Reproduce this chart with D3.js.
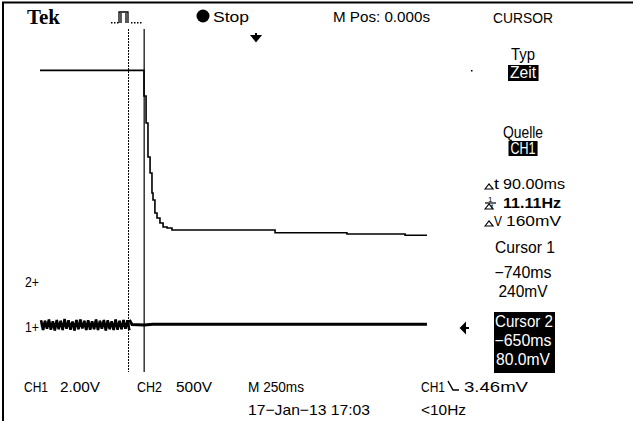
<!DOCTYPE html>
<html>
<head>
<meta charset="utf-8">
<script src="https://cdn.jsdelivr.net/npm/d3@7"></script>
<style>
  body { margin: 0; background: #fff; }
  text { font-family: "Liberation Sans", Arial, sans-serif; fill: #000; }
</style>
</head>
<body>
<div id="scope"></div>
<script>
// waveform data (seconds, volts)

// CH2: 500V/div, step down at cursor 2 then decay
var ch2Times = [-1.25, -0.651, -0.639, -0.628, -0.616, -0.605, -0.599, -0.588, -0.576, -0.559, -0.541, -0.518, -0.49, 0.104, 0.518, 0.853, 0.979];
var ch2Volts = [2440, 2140, 1825, 1427, 1240, 1006, 924, 772, 713, 655, 608, 596, 573, 541, 526, 511, 511];

// CH1: 2.00V/div, noisy baseline up to cursor 1, then flat
var ch1NoiseStart = -1.245;
var ch1NoiseStep = 0.0113;
var ch1Noise = [0.22, -0.24, 0.2, -0.18, 0.26, -0.22, 0.18, -0.26, 0.24, -0.2, 0.2, -0.24, 0.28, -0.18, 0.22, -0.22,
    0.16, -0.26, 0.24, -0.2, 0.26, -0.16, 0.2, -0.24, 0.22, -0.22, 0.18, -0.2, 0.26, -0.24, 0.2, -0.18,
    0.24, -0.26, 0.22, -0.2, 0.18, -0.24, 0.26, -0.22, 0.2, -0.2, 0.24, -0.18, 0.22, -0.24];
var ch1Times = [-0.735, -0.72, -0.65, -0.6, 0.979];
var ch1Volts = [0.24, 0.02, 0.0, 0.03, 0.03];

// cursors (seconds)
var cursorTimes = [-0.74, -0.65];

// readouts
var topLabels = ["Tek", "Stop", "M Pos: 0.000s", "CURSOR"];
var sideLabels = ["Typ", "Zeit", "Quelle", "CH1"];
var deltaLabels = ["90.00ms", "11.11Hz", "160mV"];
var cursor1Labels = ["Cursor 1", "\u2212740ms", "240mV"];
var cursor2Labels = ["Cursor 2", "\u2212650ms", "80.0mV"];
var bottomLabels = ["CH1", "2.00V", "CH2", "500V", "M 250ms", "17\u2212Jan\u221213 17:03", "CH1", "3.46mV", "<10Hz"];

var W = 633, H = 421;
var svg = d3.select("#scope").append("svg").attr("width", W).attr("height", H);

function txt(s, px, py, size, len, anchor) {
    var t = svg.append("text").attr("x", px).attr("y", py).attr("font-size", size)
        .attr("text-anchor", anchor || "start").text(s);
    if (len) t.attr("textLength", len).attr("lengthAdjust", "spacingAndGlyphs");
    return t;
}

// screen frame (top and left edges only show)
svg.append("line").attr("x1", 2).attr("x2", W).attr("y1", 2.5).attr("y2", 2.5).attr("stroke", "#000").attr("stroke-width", 2);
svg.append("line").attr("x1", 3).attr("x2", 3).attr("y1", 2).attr("y2", H).attr("stroke", "#000").attr("stroke-width", 2);

var grat = { left: 40, right: 474, top: 29, bottom: 371 };
var divH = (grat.bottom - grat.top) / 8;

var x = d3.scaleLinear().domain([-1.25, 1.25]).range([grat.left, grat.right]);
var ch2Ground = 279, ch1Ground = 325;
var y2 = d3.scaleLinear().domain([0, 500]).range([ch2Ground, ch2Ground - divH]);
var y1 = d3.scaleLinear().domain([0, 2]).range([ch1Ground, ch1Ground - divH]);

// cursor lines
svg.append("line")
    .attr("x1", x(cursorTimes[0])).attr("x2", x(cursorTimes[0]))
    .attr("y1", grat.top).attr("y2", grat.bottom + 1)
    .attr("stroke", "#000").attr("stroke-width", 1).attr("stroke-dasharray", "2,1");
svg.append("line")
    .attr("x1", x(cursorTimes[1])).attr("x2", x(cursorTimes[1]))
    .attr("y1", grat.top).attr("y2", grat.bottom + 1)
    .attr("stroke", "#000").attr("stroke-width", 1.2);

// CH1 trace
var noisePts = ch1Noise.map((v, i) => [ch1NoiseStart + i * ch1NoiseStep, v]);
var line1 = d3.line().x(d => x(d[0])).y(d => y1(d[1]));
svg.append("path")
    .attr("d", line1(noisePts))
    .attr("fill", "none").attr("stroke", "#000").attr("stroke-width", 2.2);
svg.append("path")
    .attr("d", line1(noisePts))
    .attr("fill", "none").attr("stroke", "#000").attr("stroke-width", 1)
    .attr("transform", "translate(1,0)");
svg.append("line")
    .attr("x1", x(ch1NoiseStart)).attr("x2", x(ch1Times[0]))
    .attr("y1", y1(0)).attr("y2", y1(0))
    .attr("stroke", "#000").attr("stroke-width", 4);
svg.append("path")
    .attr("d", line1(ch1Times.map((t, i) => [t, ch1Volts[i]])))
    .attr("fill", "none").attr("stroke", "#000").attr("stroke-width", 3);

// CH2 trace
var line2 = d3.line().x(d => x(d[0])).y(d => y2(d[1])).curve(d3.curveStepAfter);
svg.append("path")
    .attr("d", line2(ch2Times.map((t, i) => [t, ch2Volts[i]])))
    .attr("fill", "none").attr("stroke", "#000").attr("stroke-width", 1.6);

// ground markers
txt("2+", 25, 287, 14, 14);
txt("1+", 25, 332, 14, 14);

// trigger position arrow
svg.append("path")
    .attr("d", "M256,33 L256,41 M252,36 L256,41 L260,36 Z")
    .attr("stroke", "#000").attr("stroke-width", 2).attr("fill", "#000");
// trigger level arrow
svg.append("path")
    .attr("d", "M461,328 L469,328 M465,324 L461,328 L465,332 Z")
    .attr("stroke", "#000").attr("stroke-width", 2).attr("fill", "#000");
svg.append("rect").attr("x", 471).attr("y", 70).attr("width", 1.5).attr("height", 1.5).attr("fill", "#000");

// header
txt(topLabels[0], 27, 24, 20, 33)
    .style("font-family", "'Liberation Serif', 'DejaVu Serif', serif")
    .attr("font-weight", "bold");
svg.append("path")
    .attr("d", "M119,23 L119,12 L128,12 L128,23 M121,23 L121,13 M126,23 L126,13")
    .attr("fill", "none").attr("stroke", "#000").attr("stroke-width", 1.3);
[111, 114, 117, 131, 134, 137, 140].forEach(function (px) {
    svg.append("rect").attr("x", px).attr("y", 22).attr("width", 1.5).attr("height", 1.5).attr("fill", "#000");
});
svg.append("circle").attr("cx", 203).attr("cy", 16).attr("r", 6.5).attr("fill", "#000");
txt(topLabels[1], 213, 22, 15, 36);
txt(topLabels[2], 333, 22, 15, 97);
txt(topLabels[3], 493, 23, 15, 60);

// right-hand menu
var cx = 523;
function inverted(t, top, h) {
    var b = t.node().getBBox();
    svg.insert("rect", "text").attr("x", b.x - 2).attr("y", top).attr("width", b.width + 4).attr("height", h).attr("fill", "#000");
    t.style("fill", "#fff");
}
txt(sideLabels[0], cx, 60, 16, 24, "middle");
inverted(txt(sideLabels[1], cx, 78, 16, 26, "middle"), 65, 16);
txt(sideLabels[2], cx, 138, 16, 40, "middle");
inverted(txt(sideLabels[3], cx, 154, 16, 25, "middle"), 141, 15);

// delta readouts
function tri(px, py) {
    svg.append("path").attr("d", "M" + px + "," + py + " l4,-5 l4,5 Z")
        .attr("fill", "none").attr("stroke", "#000").attr("stroke-width", 1.2);
}
tri(485, 189);
txt("t", 494, 189, 15, 5);
txt(deltaLabels[0], 503, 189, 15, 62);
txt("1", 488, 202, 8);
svg.append("line").attr("x1", 485).attr("x2", 496).attr("y1", 203).attr("y2", 203).attr("stroke", "#000").attr("stroke-width", 1.2);
tri(485, 209);
txt("t", 491, 209, 8);
txt(deltaLabels[1], 503, 208, 15, 58).attr("font-weight", "bold");
tri(485, 226);
txt("V", 494, 226, 15, 8);
txt(deltaLabels[2], 506, 226, 15, 55);

txt(cursor1Labels[0], cx + 2, 253, 16, 60, "middle");
txt(cursor1Labels[1], cx, 278, 16, 57, "middle");
txt(cursor1Labels[2], cx, 297, 16, 49, "middle");

// cursor 2 block, inverted
svg.append("rect").attr("x", 494).attr("y", 312).attr("width", 61).attr("height", 61).attr("fill", "#000");
txt(cursor2Labels[0], cx + 1, 327, 16, 58, "middle").style("fill", "#fff");
txt(cursor2Labels[1], cx, 346, 16, 57, "middle").style("fill", "#fff");
txt(cursor2Labels[2], cx, 365, 16, 54, "middle").style("fill", "#fff");

// bottom status line
txt(bottomLabels[0], 24, 392, 15, 24);
txt(bottomLabels[1], 60, 392, 15, 40);
txt(bottomLabels[2], 137, 392, 15, 25);
txt(bottomLabels[3], 176, 392, 15, 36);
txt(bottomLabels[4], 248, 392, 15, 56);
txt(bottomLabels[5], 248, 415, 15, 122);
txt(bottomLabels[6], 421, 392, 15, 24);
svg.append("path").attr("d", "M448,381 L453,390 L459,390")
    .attr("fill", "none").attr("stroke", "#000").attr("stroke-width", 1.5);
txt(bottomLabels[7], 464, 392, 15, 64);
txt(bottomLabels[8], 421, 415, 15, 45);
</script>
</body>
</html>
